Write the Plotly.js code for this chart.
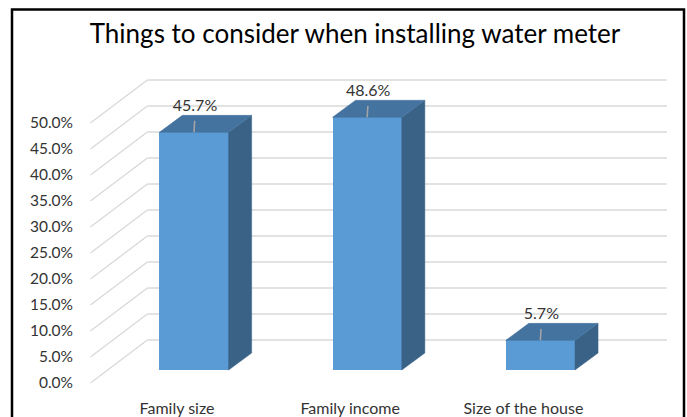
<!DOCTYPE html>
<html>
<head>
<meta charset="utf-8">
<script src="https://cdn.plot.ly/plotly-3.0.1.min.js"></script>
<style>html,body{margin:0;padding:0;background:#fff;}#chart{width:687px;height:417px;}</style>
</head>
<body>
<div id="chart"></div>
<script>
// ---- data ----
const categories = ["Family size", "Family income", "Size of the house"];
const values = [45.7, 48.6, 5.7];
const tickValues = [0, 5, 10, 15, 20, 25, 30, 35, 40, 45, 50];
const chartTitle = "Things to consider when installing water meter";

// ---- 3D projection parameters (in axis units) ----
const wallDX = 0.329, wallDY = 8.27;    // depth of the whole 3D box
const frontDX = 0.098, frontDY = 2.5;   // offset of bar front faces
const depthDX = 0.133, depthDY = 3.27;  // bar depth
const barW = 0.4;
const xMin = -0.5, xMax = categories.length - 0.5;

const fmt = v => v.toFixed(1) + '%';
const FONT = 'Lato, "Open Sans", sans-serif';
const TEXT = '#333333';

// gridlines (left wall + back wall) as shapes below traces
const shapes = [];
tickValues.forEach(v => {
  shapes.push({type:'line', xref:'x', yref:'y', layer:'below',
    x0:xMin, y0:v, x1:xMin+wallDX, y1:v+wallDY, line:{color:'#d9d9d9', width:1.3}});
  shapes.push({type:'line', xref:'x', yref:'y', layer:'below',
    x0:xMin+wallDX, y0:v+wallDY, x1:xMax+wallDX, y1:v+wallDY, line:{color:'#d9d9d9', width:1.3}});
});
// outer chart frame
const L = 78, PW = 609, T = 40, PH = 357;
const px2paperX = p => (p - L) / PW;
const py2paperY = p => (T + PH - p) / PH;
shapes.push({type:'rect', xref:'paper', yref:'paper', layer:'above',
  x0:px2paperX(12), x1:px2paperX(684), y0:py2paperY(440), y1:py2paperY(9.5),
  line:{color:'#000', width:2.5}, fillcolor:'rgba(0,0,0,0)'});

const xs = categories.map((c, i) => i + frontDX);

// front faces
const frontFaces = {
  type:'bar', x:xs, y:values, base:values.map(() => frontDY), width:barW,
  marker:{color:'#5B9BD5', line:{width:0}}, hoverinfo:'skip', showlegend:false
};

// side & top faces
const sideX = [], sideY = [], topX = [], topY = [];
values.forEach((v, i) => {
  const x = xs[i], b = frontDY, t = frontDY + v;
  sideX.push(x+barW/2, x+barW/2+depthDX, x+barW/2+depthDX, x+barW/2, x+barW/2, null);
  sideY.push(b, b+depthDY, t+depthDY, t, b, null);
  topX.push(x-barW/2, x+barW/2, x+barW/2+depthDX, x-barW/2+depthDX, x-barW/2, null);
  topY.push(t, t, t+depthDY, t+depthDY, t, null);
});
const sideFaces = {type:'scatter', mode:'lines', x:sideX, y:sideY, fill:'toself',
  fillcolor:'#3A6287', line:{color:'#3A6287', width:0.5}, hoverinfo:'skip', showlegend:false};
const topFaces = {type:'scatter', mode:'lines', x:topX, y:topY, fill:'toself',
  fillcolor:'#44739F', line:{color:'#44739F', width:0.5}, hoverinfo:'skip', showlegend:false};

// leader lines & data labels
const leadX = [], leadY = [];
values.forEach((v, i) => {
  leadX.push(xs[i], xs[i] + 0.004, null);
  leadY.push(frontDY + v, frontDY + v + 2.2, null);
});
const leaders = {type:'scatter', mode:'lines', x:leadX, y:leadY,
  line:{color:'#a6a6a6', width:1.5}, hoverinfo:'skip', showlegend:false};
const dataLabels = {type:'scatter', mode:'text', x:xs.map(x => x + 0.006),
  y:values.map(v => frontDY + v + 4.8), text:values.map(fmt), textposition:'middle center',
  textfont:{family:FONT, size:16, color:TEXT}, hoverinfo:'skip', showlegend:false};

// axis ranges so that 1 x-unit = 173.2px and 1 y-unit = 5.2px
const xRange = [(L - 177) / 173.2, (L + PW - 177) / 173.2];
const yRange = [(383 - (T + PH)) / 5.2, (383 - T) / 5.2];

const layout = {
  width:687, height:417,
  margin:{l:L, r:687 - L - PW, t:T, b:417 - T - PH},
  paper_bgcolor:'#fff', plot_bgcolor:'rgba(0,0,0,0)',
  title:{text:chartTitle, x:355/687, xref:'container', xanchor:'center',
    y:1 - 34/417, yref:'container', yanchor:'middle',
    font:{family:FONT, size:26, color:'#000'}},
  xaxis:{range:xRange, tickvals:categories.map((c, i) => i), ticktext:categories,
    showgrid:false, zeroline:false, showline:false, ticks:'',
    tickfont:{family:FONT, size:16, color:TEXT}, fixedrange:true},
  yaxis:{range:yRange, tickvals:tickValues, ticktext:tickValues.map(fmt),
    showgrid:false, zeroline:false, showline:false, ticks:'', ticklabelstandoff:4,
    tickfont:{family:FONT, size:15.5, color:TEXT}, fixedrange:true},
  shapes:shapes, showlegend:false, bargap:0
};

Plotly.newPlot('chart', [frontFaces, sideFaces, topFaces, leaders, dataLabels], layout, {displayModeBar:false, staticPlot:true});
</script>
</body>
</html>
